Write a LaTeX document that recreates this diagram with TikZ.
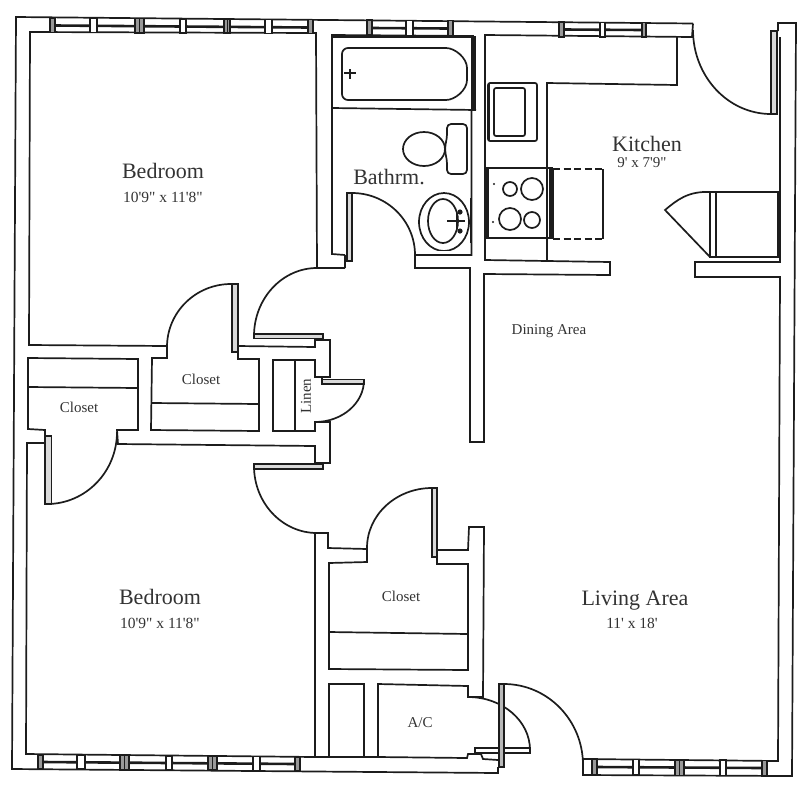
\documentclass[tikz,border=0pt]{standalone}
\usepackage{fontspec}
\setmainfont{Liberation Serif}
\newfontfamily\planserif{Liberation Serif}
\definecolor{ink}{HTML}{1C1C1C}
\definecolor{txt}{HTML}{333333}
\tikzset{
  wall/.style={draw=ink,line width=1.7pt,line join=miter},
  band/.style={draw=ink,line width=2.6pt},
  panel/.style={draw=ink,line width=1.5pt,fill=gray!30},
  whitemull/.style={draw=ink,line width=1.1pt,fill=white},
  graymull/.style={draw=ink,line width=1.1pt,fill=gray!80},
  big/.style={text=txt,font=\planserif\fontsize{22}{24}\selectfont,inner sep=0pt},
  mid/.style={text=txt,font=\planserif\fontsize{15}{17}\selectfont,inner sep=0pt},
  dim/.style={text=txt,font=\planserif\fontsize{15.5}{17}\selectfont,inner sep=0pt},
}
\newcommand{\qarc}[4]{%
  \pgfmathsetmacro\cxa{#1+0.5523*(#3-#1)}%
  \pgfmathsetmacro\cyb{#4+0.5523*(#2-#4)}%
  \draw[wall] (#1,#2) .. controls (\cxa,#2) and (#3,\cyb) .. (#3,#4);}
\newcommand{\mullW}[4]{\draw[whitemull] (#1,#3) rectangle (#2,#4);}
\newcommand{\mullG}[4]{\draw[graymull] (#1,#3) rectangle (#2,#4);}
\newcommand{\mullD}[4]{\draw[graymull] (#1,#3) rectangle (#2,#4);
  \draw[ink,line width=0.8pt] ({(#1+#2)/2},#3) -- ({(#1+#2)/2},#4);}
\begin{document}
\begin{tikzpicture}[x=1pt,y=-1pt]
\useasboundingbox (0,0) rectangle (811,788);
% outer shell
\draw[wall] (693,23.5) -- (16,17) -- (12,769) -- (498,773) -- (498,767);
\draw[wall] (583,759) -- (583,775) -- (792,776) -- (796,23) -- (778,23) -- (778,31);
\draw[wall] (780,37) -- (780,262) -- (695,262) -- (695,277) -- (780,277) -- (778,761) -- (583,759);
% bedroom 1
\draw[wall] (345,268) -- (317,268) -- (316,33) -- (30,32) -- (29,345) -- (167,346) -- (167,358) -- (152,358) -- (151,430) -- (259,431) -- (259,359) -- (238,359) -- (238,352);
\draw[panel] (232,284) rectangle (238,352);
% corridor wall and closets
\draw[wall] (238,346) -- (315,347) -- (315,340) -- (330,340) -- (330,377) -- (315,377) -- (315,360) -- (273,360) -- (273,431) -- (315,431) -- (315,422) -- (330,422) -- (330,463) -- (315,463) -- (315,446) -- (118,444) -- (117,430) -- (138,430) -- (138,359) -- (28,358) -- (28,429) -- (45,430) -- (45,443) -- (27,443) -- (26,754) -- (315,757) -- (315,533) -- (328,533) -- (328,548) -- (367,549) -- (367,562) -- (329,563) -- (329,669) -- (468,670) -- (468,564) -- (437,564) -- (437,550) -- (468,550) -- (469,527) -- (484,527) -- (483,697) -- (468,697) -- (468,686) -- (378,684) -- (378,757) -- (467,758) -- (468,754) -- (481,754) -- (483,759) -- (498,760);
\draw[wall] (315,757) -- (329,757) -- (329,684) -- (364,684) -- (364,757) -- (329,757);
\draw[wall] (364,757) -- (378,757);
% dividers
\draw[wall] (152,403) -- (259,404);
\draw[wall] (28,387) -- (138,388);
\draw[wall] (295,360) -- (295,431);
\draw[wall] (329,632) -- (468,634);
% door panels
\draw[panel] (45,436) rectangle (51.5,504);
\draw[panel] (254,334) rectangle (323,338.5);
\draw[panel] (254,464) rectangle (323,469);
\draw[panel] (322,379.5) rectangle (364,384);
\draw[panel] (432,488) rectangle (437,557);
\draw[panel] (347,193) rectangle (352,261);
\draw[panel] (771,31) rectangle (777,114);
\draw[wall] (322,377) -- (322,380);
% door arcs
\qarc{352}{193}{415}{255}
\qarc{317}{268}{254}{336}
\qarc{231}{284}{167}{347}
\qarc{315}{422}{364}{380}
\qarc{47}{504}{117}{432}
\qarc{317}{533}{254}{466}
\qarc{432}{488}{367}{548}
\qarc{504}{684}{583}{765}
\qarc{468}{697}{530}{750}
\qarc{771}{114}{693}{30}
% a/c door and entry door
\draw[panel,fill=white] (475,748) rectangle (530,753);
\draw[panel,fill=gray!55] (499,684) rectangle (504,767);
% bathroom and kitchen walls
\draw[wall] (345,255) -- (332,254) -- (332,35) -- (473,36);
\draw[wall] (345,255) -- (345,268);
\draw[wall] (471.5,110) -- (471.5,255) -- (415,255) -- (415,268) -- (470,268) -- (470,442) -- (484,442) -- (484,274) -- (610,275) -- (610,262) -- (485,260) -- (485,35) -- (692,37) -- (693,23.5);
% tub
\draw[wall] (332,108) -- (476,110);
\fill[ink] (470.5,36) rectangle (476,110);
\fill[ink] (332,34.5) rectangle (474,38);
\draw[wall,rounded corners=6pt] (342,62) -- (342,48) -- (440,48) .. controls (455,48) and (467,58) .. (467,74) .. controls (467,90) and (455,100) .. (440,100) -- (342,100) -- (342,62);
\draw[wall] (344,73) -- (356,73);
\draw[wall] (350,69) -- (350,79);
% toilet
\draw[wall] (424,149) ellipse [x radius=21,y radius=17];
\draw[wall,rounded corners=4pt] (447,124) -- (467,124) -- (467,174) -- (447,174) -- (447,160) .. controls (445,152) and (445,146) .. (447,138) -- cycle;
% sink
\begin{scope}
\clip (410,180) rectangle (471,250);
\draw[wall] (444,222) ellipse [x radius=25,y radius=29];
\end{scope}
\draw[wall] (443,221) ellipse [x radius=15,y radius=22];
\draw[wall] (447,221) -- (465,221);
\fill[ink] (460,212) circle (2.6);
\fill[ink] (460,231) circle (2.6);
\draw[wall] (457,214) -- (457,229);
\draw[line width=2.6pt,ink] (471,198) -- (471,243);
% kitchen counter
\draw[wall] (677,37) -- (677,85) -- (547,83) -- (547,260);
\draw[wall,rounded corners=2pt] (488,83) rectangle (537,141);
\draw[wall,rounded corners=2pt] (494,88) rectangle (525,136);
\draw[line width=2pt,ink] (489,84) -- (489,140);
% stove
\draw[wall] (487,168) rectangle (552,238);
\fill[ink] (486,168) rectangle (489,238);
\fill[ink] (549,168) rectangle (553.5,239);
\draw[wall] (510,189) circle (7);
\draw[wall] (532,189) circle (11);
\draw[wall] (510,219) circle (11);
\draw[wall] (532,220) circle (8);
\fill[ink] (494,184) circle (1.1);
\fill[ink] (493,222) circle (1.1);
\draw[wall,dashed,dash pattern=on 7pt off 3.5pt] (553,169) -- (603,169);
\draw[wall,dashed,dash pattern=on 7pt off 3.5pt] (553,239) -- (603,239);
\draw[wall] (603,169) -- (603,239);
% refrigerator
\draw[wall] (716,192) -- (780,192);
\draw[wall] (716,257) -- (780,257);
\draw[wall] (710,192) .. controls (688,191) and (677,200) .. (665,210) -- (710,257);
\draw[panel,fill=white] (710,192) rectangle (716,257);
\fill[ink] (776.5,192) rectangle (780.5,257);
% windows, top
\draw[band] (55,25.5) -- (308,27.5);
\mullG{50}{55}{18}{32.5}
\mullW{90}{97}{18.5}{32.5}
\mullD{135}{144}{18.5}{33}
\mullW{180}{186}{19}{33}
\mullD{224}{230}{19}{33}
\mullW{265}{272}{19.5}{33.5}
\mullG{308}{313}{19.5}{33.5}
\draw[band] (372,28) -- (448,28.5);
\mullG{367}{372}{20}{35}
\mullW{406}{413}{20.5}{35.5}
\mullG{448}{453}{20.5}{35.5}
\draw[band] (564,29.5) -- (642,30);
\mullG{559}{564}{22}{37}
\mullW{600}{605}{22.5}{37}
\mullG{642}{646}{22.5}{37}
% windows, bottom
\draw[band] (43,762) -- (295,764);
\mullG{38}{43}{755}{769}
\mullW{77}{85}{755}{769}
\mullD{120}{129}{755.5}{770}
\mullW{166}{172}{756}{770}
\mullD{208}{217}{756}{770}
\mullW{253}{260}{756.5}{770.5}
\mullG{295}{300}{757}{771}
\draw[band] (597,767) -- (762,768);
\mullW{583}{592}{759}{775}
\mullG{592}{597}{759}{775}
\mullW{633}{639}{759.5}{775}
\mullD{675}{684}{760}{775.5}
\mullW{720}{726}{760}{775.5}
\mullG{762}{767}{760.5}{776}
% labels
\node[big] (bed1) at (163,171) {Bedroom};
\node[dim] (bed1d) at (163,197) {10'9" x 11'8"};
\node[big] (bath) at (389,177) {Bathrm.};
\node[big] (kit) at (647,144) {Kitchen};
\node[mid] (kitd) at (642,163) {9' x 7'9"};
\node[mid] (din) at (549,331) {Dining Area};
\node[mid] (c1) at (201,379) {Closet};
\node[mid] (c2) at (79,407) {Closet};
\node[mid] (c3) at (401,596) {Closet};
\node[mid,rotate=90] (lin) at (306,396) {Linen};
\node[big] (bed2) at (160,597) {Bedroom};
\node[dim] (bed2d) at (160,623) {10'9" x 11'8"};
\node[big] (liv) at (635,601) {Living Area};
\node[dim] (livd) at (632,623) {11' x 18'};
\node[mid] (ac) at (420,723) {A/C};
\end{tikzpicture}
\end{document}
